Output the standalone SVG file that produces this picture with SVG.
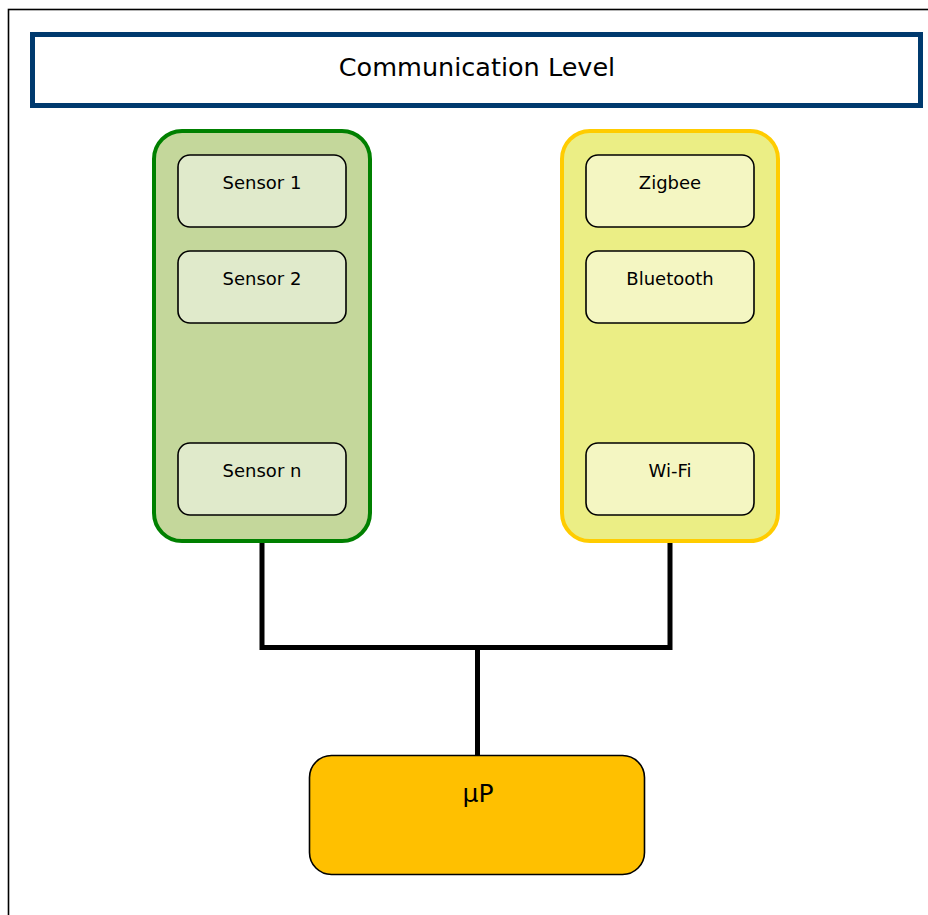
<svg xmlns="http://www.w3.org/2000/svg" width="928" height="915" viewBox="0 0 928 915">
  <style>
    text { font-family: Tahoma, "DejaVu Sans", "Liberation Sans", sans-serif; fill: #000; text-anchor: middle; }
    .item { font-size: 18px; }
    .green-item { fill: #e0eacb; stroke: #000; stroke-width: 1.6; }
    .yellow-item { fill: #f4f6c2; stroke: #000; stroke-width: 1.6; }
    .wire { fill: none; stroke: #000; stroke-width: 5; stroke-linejoin: miter; }
  </style>

  <rect x="0" y="0" width="928" height="915" fill="#fff"/>
  <!-- page frame -->
  <rect x="8.5" y="9.5" width="940" height="930" fill="none" stroke="#000" stroke-width="1.6"/>

  <g id="title">
    <rect x="32.5" y="34.5" width="888" height="71" fill="#fff" stroke="#003a6e" stroke-width="5"/>
    <text x="477" y="76" font-size="25.5">Communication Level</text>
  </g>

  <g id="connectors">
    <path class="wire" d="M262 543 V647.5 H670 V543"/>
    <path class="wire" d="M477.5 647.5 V756"/>
  </g>

  <g id="sensors">
    <rect x="154" y="131" width="216" height="410" rx="28" fill="#c4d79b" stroke="#008000" stroke-width="4"/>
    <g id="sensor-1">
      <rect class="green-item" x="178" y="155" width="168" height="72" rx="12"/>
      <text class="item" x="262" y="189">Sensor 1</text>
    </g>
    <g id="sensor-2">
      <rect class="green-item" x="178" y="251" width="168" height="72" rx="12"/>
      <text class="item" x="262" y="285">Sensor 2</text>
    </g>
    <g id="sensor-n">
      <rect class="green-item" x="178" y="443" width="168" height="72" rx="12"/>
      <text class="item" x="262" y="477">Sensor n</text>
    </g>
  </g>

  <g id="radios">
    <rect x="562" y="131" width="216" height="410" rx="28" fill="#ebee85" stroke="#ffcc00" stroke-width="4"/>
    <g id="zigbee">
      <rect class="yellow-item" x="586" y="155" width="168" height="72" rx="12"/>
      <text class="item" x="670" y="189">Zigbee</text>
    </g>
    <g id="bluetooth">
      <rect class="yellow-item" x="586" y="251" width="168" height="72" rx="12"/>
      <text class="item" x="670" y="285">Bluetooth</text>
    </g>
    <g id="wifi">
      <rect class="yellow-item" x="586" y="443" width="168" height="72" rx="12"/>
      <text class="item" x="670" y="477">Wi-Fi</text>
    </g>
  </g>

  <g id="microprocessor">
    <rect x="309.5" y="755.5" width="335" height="119" rx="22" fill="#ffc000" stroke="#000" stroke-width="1.6"/>
    <text x="478" y="802" font-size="25">µP</text>
  </g>
</svg>
